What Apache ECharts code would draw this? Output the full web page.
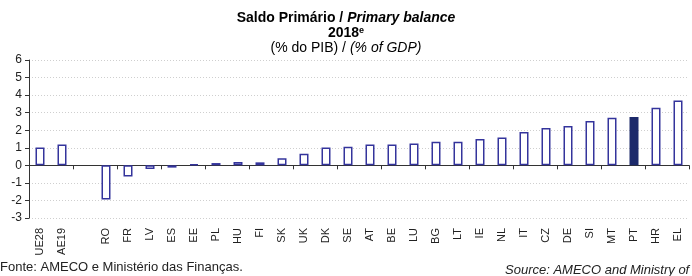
<!DOCTYPE html>
<html>
<head>
<meta charset="utf-8">
<script src="https://cdn.jsdelivr.net/npm/echarts@6/dist/echarts.min.js"></script>
<style>
  html, body { margin: 0; padding: 0; background: #fff; }
  #chart { width: 692px; height: 276px; }
</style>
</head>
<body>
<div id="chart"></div>
<script>
// Países (a categoria vazia separa os agregados)
const countries = ['UE28', 'AE19', '', 'RO', 'FR', 'LV', 'ES', 'EE', 'PL', 'HU', 'FI', 'SK', 'UK', 'DK', 'SE',
  'AT', 'BE', 'LU', 'BG', 'LT', 'IE', 'NL', 'IT', 'CZ', 'DE', 'SI', 'MT', 'PT', 'HR', 'EL'];
// Saldo primário 2018e, % do PIB
const balance = [1.02, 1.18, null, -1.94, -0.63, -0.21, -0.13, 0.06, 0.13, 0.19, 0.17, 0.4, 0.66, 1.02, 1.06,
  1.18, 1.18, 1.25, 1.35, 1.35, 1.5, 1.58, 1.9, 2.12, 2.24, 2.52, 2.71, 2.75, 3.28, 3.7];
const highlight = 'PT';

const chart = echarts.init(document.getElementById('chart'));
const font = '"Liberation Sans", Arial, sans-serif';

const option = {
  animation: false,
  textStyle: { fontFamily: font },
  title: {
    left: 'center',
    top: 6,
    text: '{b|Saldo Primário / }{bi|Primary balance}\n{b|2018}{sup|e}\n{n|(% do PIB) / }{i|(% of GDP)}',
    textStyle: {
      fontWeight: 'normal',
      rich: {
        b: { fontFamily: font, fontSize: 14, fontWeight: 'bold', color: '#000', lineHeight: 15 },
        bi: { fontFamily: font, fontSize: 14, fontWeight: 'bold', fontStyle: 'italic', color: '#000', lineHeight: 15 },
        sup: { fontFamily: font, fontSize: 9, fontWeight: 'bold', color: '#000', padding: [0, 0, 6, 0], lineHeight: 15 },
        n: { fontFamily: font, fontSize: 14, fontWeight: 'normal', color: '#000', lineHeight: 15 },
        i: { fontFamily: font, fontSize: 14, fontWeight: 'normal', fontStyle: 'italic', color: '#000', lineHeight: 15 }
      }
    }
  },
  grid: { left: 29, right: 3, top: 60, bottom: 58 },
  xAxis: [
    {
      type: 'category',
      data: countries,
      axisLine: { onZero: true, lineStyle: { color: '#333', width: 1 } },
      axisTick: { show: true, length: 4, lineStyle: { color: '#333' } },
      axisLabel: { show: false },
      splitLine: { show: false }
    },
    {
      type: 'category',
      data: countries,
      position: 'bottom',
      axisLine: { show: false, onZero: false },
      axisTick: { show: false },
      axisLabel: { show: true, rotate: 90, interval: 0, margin: 10, fontSize: 11, color: '#222', fontFamily: font }
    }
  ],
  yAxis: {
    type: 'value',
    min: -3,
    max: 6,
    interval: 1,
    axisLine: { show: true, lineStyle: { color: '#333' } },
    axisTick: { show: true, length: 4, lineStyle: { color: '#333' } },
    axisLabel: { fontSize: 12, color: '#222', margin: 7, fontFamily: font },
    splitLine: { show: true, lineStyle: { color: '#cfcfcf', type: [1, 2] } }
  },
  series: [
    {
      type: 'bar',
      xAxisIndex: 0,
      barWidth: 9,
      data: balance.map((v, i) => ({
        value: v,
        itemStyle: countries[i] === highlight
          ? { color: '#1c2a6b', borderColor: '#1c2a6b', borderWidth: 1.5 }
          : { color: '#ffffff', borderColor: '#34349c', borderWidth: 1.5 }
      }))
    }
  ],
  graphic: [
    {
      type: 'text', left: 0, top: 261,
      style: { text: 'Fonte: AMECO e Ministério das Finanças.', fontFamily: font, fontSize: 13, fill: '#222' }
    },
    {
      type: 'text', left: 505, top: 264,
      style: { text: 'Source: AMECO and Ministry of Finance.', fontFamily: font, fontSize: 13, fontStyle: 'italic', fill: '#222' }
    }
  ]
};

chart.setOption(option);
</script>
</body>
</html>
